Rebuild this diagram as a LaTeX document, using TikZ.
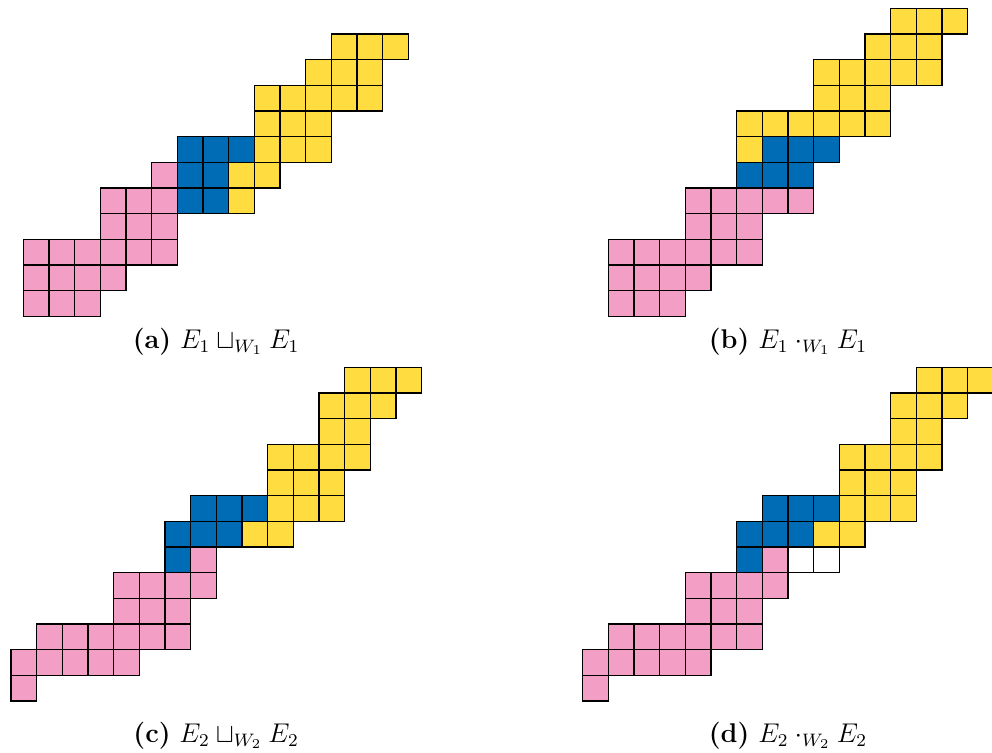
\documentclass[tikz,border=0pt]{standalone}
\usepackage{xcolor}
\usepackage{tikz}

\definecolor{cellpink}{RGB}{243,158,197}
\definecolor{cellblue}{RGB}{0,108,182}
\definecolor{cellyellow}{RGB}{255,221,65}

\begin{document}
\begin{tikzpicture}[x=0.4cm,y=0.4cm,
    pinkcell/.style={fill=cellpink,draw=black,semithick},
    bluecell/.style={fill=cellblue,draw=black,semithick},
    yellowcell/.style={fill=cellyellow,draw=black,semithick},
    emptycell/.style={fill=white,draw=black,semithick},
    subcap/.style={anchor=base,font=\large}]

      \useasboundingbox (0,0) rectangle (38.65,29.3);

      % (a) 左上の図
      \begin{scope}[shift={(0.908,16.975)}]
        \foreach \y/\cols in {0/{0,1,2},1/{0,1,2,3},2/{0,...,5},3/{3,4,5},4/{3,4,5},5/{5}}
          \foreach \x in \cols \draw[pinkcell] (\x,\y) rectangle ++(1,1);
        \foreach \y/\cols in {4/{6,7},5/{6,7},6/{6,7,8}}
          \foreach \x in \cols \draw[bluecell] (\x,\y) rectangle ++(1,1);
        \foreach \y/\cols in {4/{8},5/{8,9},6/{9,10,11},7/{9,10,11},8/{9,...,13},9/{11,12,13},10/{12,13,14}}
          \foreach \x in \cols \draw[yellowcell] (\x,\y) rectangle ++(1,1);
      \end{scope}
      \node[subcap] (capa) at (8.42,15.74) {\textbf{(a)}~$E_1 \sqcup_{W_1} E_1$};

      % (b) 右上の図
      \begin{scope}[shift={(23.70,16.975)}]
        \foreach \y/\cols in {0/{0,1,2},1/{0,1,2,3},2/{0,...,5},3/{3,4,5},4/{3,...,7}}
          \foreach \x in \cols \draw[pinkcell] (\x,\y) rectangle ++(1,1);
        \foreach \y/\cols in {5/{5,6,7},6/{6,7,8}}
          \foreach \x in \cols \draw[bluecell] (\x,\y) rectangle ++(1,1);
        \foreach \y/\cols in {6/{5},7/{5,...,10},8/{8,9,10},9/{8,...,12},10/{10,11,12},11/{11,12,13}}
          \foreach \x in \cols \draw[yellowcell] (\x,\y) rectangle ++(1,1);
      \end{scope}
      \node[subcap] (capb) at (30.70,15.74) {\textbf{(b)}~$E_1 \cdot_{W_1} E_1$};

      % (c) 左下の図
      \begin{scope}[shift={(0.429,1.987)}]
        \foreach \y/\cols in {0/{0},1/{0,...,4},2/{1,...,6},3/{4,5,6},4/{4,...,7},5/{7}}
          \foreach \x in \cols \draw[pinkcell] (\x,\y) rectangle ++(1,1);
        \foreach \y/\cols in {5/{6},6/{6,7,8},7/{7,8,9}}
          \foreach \x in \cols \draw[bluecell] (\x,\y) rectangle ++(1,1);
        \foreach \y/\cols in {6/{9,10},7/{10,11,12},8/{10,11,12},9/{10,...,13},10/{12,13},11/{12,13,14},12/{13,14,15}}
          \foreach \x in \cols \draw[yellowcell] (\x,\y) rectangle ++(1,1);
      \end{scope}
      \node[subcap] (capc) at (8.42,0.378) {\textbf{(c)}~$E_2 \sqcup_{W_2} E_2$};

      % (d) 右下の図（空きマス 2 つ）
      \begin{scope}[shift={(22.70,1.987)}]
        \foreach \y/\cols in {0/{0},1/{0,...,4},2/{1,...,6},3/{4,5,6},4/{4,...,7},5/{7}}
          \foreach \x in \cols \draw[pinkcell] (\x,\y) rectangle ++(1,1);
        \foreach \x in {8,9} \draw[emptycell] (\x,5) rectangle ++(1,1);
        \foreach \y/\cols in {5/{6},6/{6,7,8},7/{7,8,9}}
          \foreach \x in \cols \draw[bluecell] (\x,\y) rectangle ++(1,1);
        \foreach \y/\cols in {6/{9,10},7/{10,11,12},8/{10,11,12},9/{10,...,13},10/{12,13},11/{12,13,14},12/{13,14,15}}
          \foreach \x in \cols \draw[yellowcell] (\x,\y) rectangle ++(1,1);
      \end{scope}
      \node[subcap] (capd) at (30.70,0.378) {\textbf{(d)}~$E_2 \cdot_{W_2} E_2$};

    \end{tikzpicture}
\end{document}
